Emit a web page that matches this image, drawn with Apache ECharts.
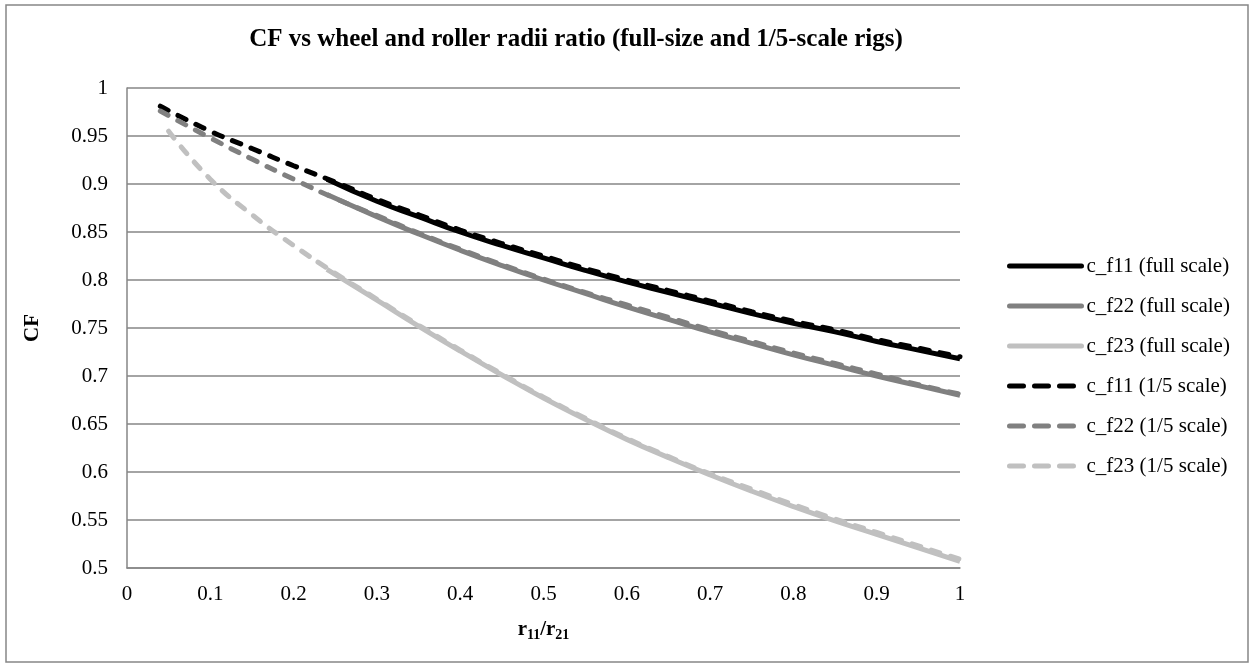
<!DOCTYPE html>
<html>
<head>
<meta charset="utf-8">
<script src="https://cdn.jsdelivr.net/npm/echarts@6/dist/echarts.min.js"></script>
<style>
  html, body { margin: 0; padding: 0; background: #fff; }
  #chart { width: 1254px; height: 668px; }
</style>
</head>
<body>
<div id="chart"></div>
<script>
// Radii ratio r11/r21 sample points
const xFull = [0.24, 0.3, 0.35, 0.4, 0.45, 0.5, 0.55, 0.6, 0.65, 0.7, 0.75, 0.8, 0.85, 0.9, 0.95, 1.0];
const xScaled = [0.04, 0.1, 0.15, 0.2, 0.25, 0.3, 0.35, 0.4, 0.45, 0.5, 0.55, 0.6, 0.65, 0.7, 0.75, 0.8, 0.85, 0.9, 0.95, 1.0];
const xScaled23 = [0.05, 0.1, 0.15, 0.2, 0.25, 0.3, 0.35, 0.4, 0.45, 0.5, 0.55, 0.6, 0.65, 0.7, 0.75, 0.8, 0.85, 0.9, 0.95, 1.0];

// CF values, full-size rig
const cf11Full = [0.905, 0.882, 0.866, 0.850, 0.836, 0.823, 0.810, 0.798, 0.787, 0.776, 0.765, 0.755, 0.746, 0.736, 0.727, 0.718];
const cf22Full = [0.889, 0.866, 0.848, 0.831, 0.815, 0.800, 0.786, 0.772, 0.759, 0.746, 0.734, 0.722, 0.711, 0.700, 0.690, 0.680];
const cf23Full = [0.811, 0.779, 0.752, 0.726, 0.701, 0.677, 0.655, 0.634, 0.615, 0.597, 0.580, 0.564, 0.549, 0.535, 0.521, 0.507];

// CF values, 1/5-scale rig
const cf11Scaled = [0.981, 0.955, 0.937, 0.919, 0.902, 0.884, 0.868, 0.852, 0.838, 0.825, 0.812, 0.800, 0.789, 0.778, 0.767, 0.757, 0.748, 0.738, 0.729, 0.720];
const cf22Scaled = [0.976, 0.948, 0.926, 0.905, 0.885, 0.867, 0.849, 0.832, 0.816, 0.801, 0.787, 0.774, 0.761, 0.748, 0.736, 0.724, 0.713, 0.702, 0.691, 0.681];
const cf23Scaled = [0.955, 0.905, 0.868, 0.836, 0.807, 0.780, 0.753, 0.727, 0.702, 0.678, 0.656, 0.635, 0.616, 0.598, 0.582, 0.566, 0.551, 0.537, 0.523, 0.509];

const seriesNames = [
  'c_f11 (full scale)', 'c_f22 (full scale)', 'c_f23 (full scale)',
  'c_f11 (1/5 scale)', 'c_f22 (1/5 scale)', 'c_f23 (1/5 scale)'
];
const seriesColors = ['#000000', '#808080', '#c0c0c0', '#000000', '#808080', '#c0c0c0'];
const seriesDashed = [false, false, false, true, true, true];

const FONT = '"Liberation Serif", "Times New Roman", serif';
const pair = (xs, ys) => xs.map((x, i) => [x, ys[i]]);

function lineSeries(idx, xs, ys) {
  const dashed = seriesDashed[idx];
  return {
    name: seriesNames[idx],
    type: 'line',
    data: pair(xs, ys),
    smooth: true,
    showSymbol: false,
    symbol: 'none',
    silent: true,
    lineStyle: {
      color: seriesColors[idx],
      width: 5,
      type: dashed ? [9, 11] : 'solid',
      cap: dashed ? 'round' : 'butt'
    },
    itemStyle: { color: seriesColors[idx] }
  };
}

// Legend entries: solid or dashed swatches, no point markers
const legendData = seriesNames.map((name, i) => ({
  name: name,
  itemStyle: { opacity: 0 },
  lineStyle: {
    color: seriesColors[i],
    width: 5,
    type: seriesDashed[i] ? [14, 11] : 'solid',
    cap: 'round'
  }
}));

const chart = echarts.init(document.getElementById('chart'), null, { renderer: 'canvas' });
chart.setOption({
  animation: false,
  backgroundColor: '#fff',
  title: {
    text: 'CF vs wheel and roller radii ratio (full-size and 1/5-scale rigs)',
    left: 571,
    top: 22,
    textAlign: 'center',
    textStyle: { fontFamily: FONT, fontSize: 25, fontWeight: 'bold', color: '#000' }
  },
  legend: {
    orient: 'vertical',
    left: 1002,
    top: 249,
    itemWidth: 72,
    itemHeight: 6,
    itemGap: 16,
    data: legendData,
    textStyle: { fontFamily: FONT, fontSize: 21, color: '#000', lineHeight: 24 }
  },
  grid: { left: 127, right: 294, top: 88, bottom: 100, containLabel: false },
  xAxis: {
    type: 'value',
    min: 0, max: 1, interval: 0.1,
    name: '{r|r}{s|11}{r|/r}{s|21}',
    nameLocation: 'middle',
    nameGap: 50,
    nameMoveOverlap: false,
    nameTextStyle: {
      rich: {
        r: { fontFamily: FONT, fontSize: 21, fontWeight: 'bold', color: '#000' },
        s: { fontFamily: FONT, fontSize: 14, fontWeight: 'bold', color: '#000', verticalAlign: 'bottom', padding: [10, 0, 0, 0] }
      }
    },
    axisLine: { lineStyle: { color: '#868686', width: 1.5 } },
    axisTick: { show: false },
    splitLine: { show: false },
    axisLabel: { fontFamily: FONT, fontSize: 21, color: '#000', margin: 16 }
  },
  yAxis: {
    type: 'value',
    min: 0.5, max: 1, interval: 0.05,
    name: 'CF',
    nameLocation: 'middle',
    nameGap: 84,
    nameMoveOverlap: false,
    nameRotate: 90,
    nameTextStyle: { fontFamily: FONT, fontSize: 21, fontWeight: 'bold', color: '#000' },
    axisLine: { show: true, lineStyle: { color: '#868686', width: 1.5 } },
    axisTick: { show: false },
    splitLine: { lineStyle: { color: '#868686', width: 1.5 } },
    axisLabel: { fontFamily: FONT, fontSize: 21, color: '#000', margin: 19 }
  },
  graphic: [{
    type: 'rect',
    shape: { x: 6, y: 5, width: 1242, height: 657 },
    style: { fill: 'none', stroke: '#868686', lineWidth: 1.5 },
    silent: true,
    z: -1
  }],
  series: [
    lineSeries(0, xFull, cf11Full),
    lineSeries(1, xFull, cf22Full),
    lineSeries(2, xFull, cf23Full),
    lineSeries(3, xScaled, cf11Scaled),
    lineSeries(4, xScaled, cf22Scaled),
    lineSeries(5, xScaled23, cf23Scaled)
  ]
});
</script>
</body>
</html>
